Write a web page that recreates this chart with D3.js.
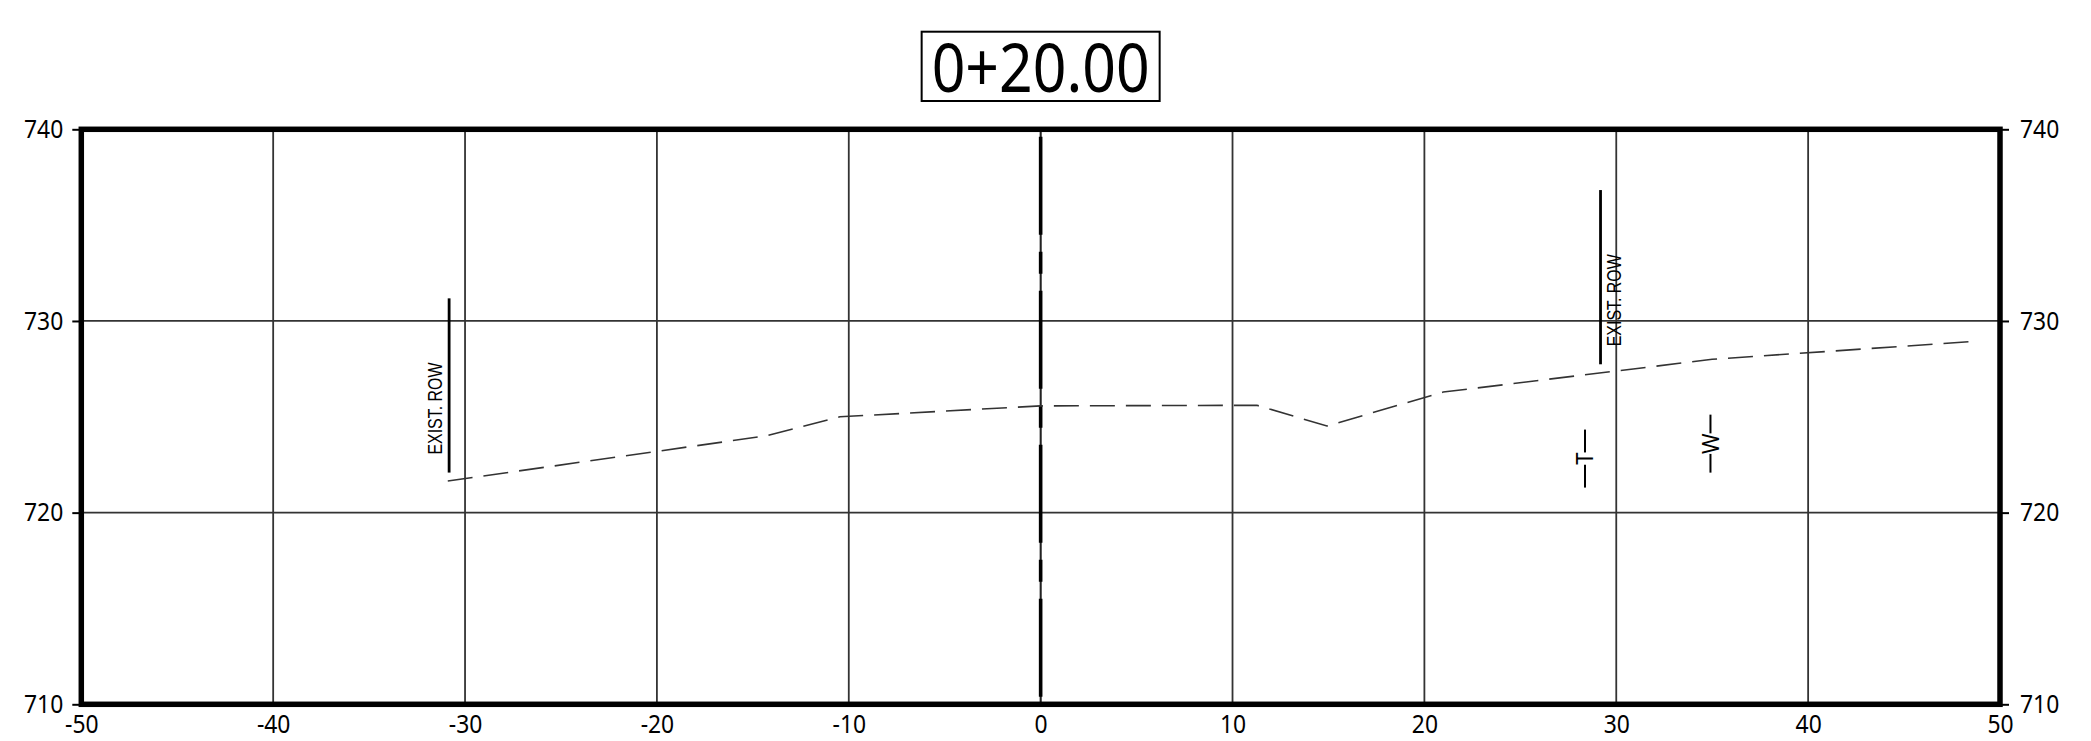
<!DOCTYPE html>
<html>
<head>
<meta charset="utf-8">
<script src="https://cdn.jsdelivr.net/npm/d3@7"></script>
<style>
body { margin: 0; background: white; }
.gridline { stroke: #333; stroke-width: 1.8; }
.axisLabels text { font-family: "Noto Sans", sans-serif; font-size: 26px; fill: black; }
.axisLabels line { stroke: black; stroke-width: 2; }
</style>
</head>
<body>
<div id="rysPrzekroj"></div>
<script>
// section data (offset in ft, elevation in ft)
var stationLabel = "0+20.00";
var offsetTicks = [-50, -40, -30, -20, -10, 0, 10, 20, 30, 40, 50];
var elevTicks = [710, 720, 730, 740];

var groundOffsets = [-30.9, -14.35, -10.46, 0, 11.27, 14.92, 20.98, 35.0, 48.45];
var groundElevs = [721.65, 724.0, 725.0, 725.57, 725.6, 724.52, 726.29, 728.0, 728.92];

var rowLabel = "EXIST. ROW";
var rowOffsets = [-30.83, 29.18];
var rowTops = [731.18, 736.83];
var rowBottoms = [722.09, 727.74];

var utilityCodes = ["T", "W"];
var utilityOffsets = [28.37, 34.91];
var utilityElevs = [722.82, 723.6];

var margin = { top: 129.3, right: 91, bottom: 36.7, left: 81.3 };
var width = 2091 - margin.left - margin.right;
var height = 741 - margin.top - margin.bottom;

var ground = groundOffsets.map(function (d, i) { return { off: d, elev: groundElevs[i] }; });
var rows = rowOffsets.map(function (d, i) { return { off: d, top: rowTops[i], bottom: rowBottoms[i] }; });
var utilities = utilityCodes.map(function (d, i) { return { code: d, off: utilityOffsets[i], elev: utilityElevs[i] }; });

var svgRoot = d3.select("#rysPrzekroj")
  .append("svg")
  .attr("width", 2091)
  .attr("height", 741)
  .style("display", "block")
  .style("background", "white");

var svg = svgRoot.append("g")
  .attr("transform", "translate(" + margin.left + "," + margin.top + ")");

var xscale = d3.scaleLinear()
  .domain([offsetTicks[0], offsetTicks[offsetTicks.length - 1]])
  .range([0, width]);

var yscale = d3.scaleLinear()
  .domain([elevTicks[0], elevTicks[elevTicks.length - 1]])
  .range([height, 0]);

// plain hyphen, like the CAD sheet
var plainNum = function (d) { return String(d); };

// grid
svg.append("g")
  .selectAll("line")
  .data(offsetTicks.slice(1, -1))
  .enter().append("line")
  .attr("class", "gridline")
  .attr("x1", d => xscale(d))
  .attr("x2", d => xscale(d))
  .attr("y1", 0)
  .attr("y2", height);

svg.append("g")
  .selectAll("line")
  .data(elevTicks.slice(1, -1))
  .enter().append("line")
  .attr("class", "gridline")
  .attr("x1", 0)
  .attr("x2", width)
  .attr("y1", d => yscale(d))
  .attr("y2", d => yscale(d));

// centerline: thin line with heavy dash-dot on top
svg.append("line")
  .attr("x1", xscale(0)).attr("x2", xscale(0))
  .attr("y1", 0).attr("y2", height)
  .attr("stroke", "#222")
  .attr("stroke-width", 1.6);

svg.append("line")
  .attr("x1", xscale(0)).attr("x2", xscale(0))
  .attr("y1", 0).attr("y2", height)
  .attr("stroke", "black")
  .attr("stroke-width", 3.6)
  .attr("stroke-dasharray", "98 17 22 17")
  .attr("stroke-dashoffset", 126 - height / 2);

// existing ground
svg.append("path")
  .datum(ground)
  .attr("fill", "none")
  .attr("stroke", "#333")
  .attr("stroke-width", 1.6)
  .attr("stroke-dasharray", "25 11")
  .attr("d", d3.line()
    .x(function (d) { return xscale(d.off); })
    .y(function (d) { return yscale(d.elev); })
  );

// right of way lines
svg.append("g")
  .selectAll("line")
  .data(rows)
  .enter().append("line")
  .attr("x1", d => xscale(d.off))
  .attr("x2", d => xscale(d.off))
  .attr("y1", d => yscale(d.top))
  .attr("y2", d => yscale(d.bottom))
  .attr("stroke", "black")
  .attr("stroke-width", 2.8);

svg.append("g")
  .selectAll("text")
  .data(rows)
  .enter().append("text")
  .attr("transform", function (d) {
    var tx = d.off < 0 ? xscale(d.off) - 7 : xscale(d.off) + 20;
    return "translate(" + tx + "," + (yscale(d.bottom) - 18) + ")rotate(-90)";
  })
  .attr("text-anchor", "start")
  .attr("textLength", 92)
  .attr("lengthAdjust", "spacingAndGlyphs")
  .style("font-family", "'Liberation Sans', Arial, sans-serif")
  .style("font-size", "19.5px")
  .text(rowLabel);

// utility markers  —T—  —W—
var symLen = 58;
var utilG = svg.append("g")
  .selectAll("g")
  .data(utilities)
  .enter().append("g");

utilG.append("text")
  .attr("transform", d => "translate(" + (xscale(d.off) + 8.5) + "," + yscale(d.elev) + ")rotate(-90)")
  .attr("text-anchor", "middle")
  .style("font-family", "'Noto Sans', sans-serif")
  .style("font-size", "24px")
  .text(d => d.code)
  .each(function (d) {
    var w = this.getComputedTextLength() * 0.92;
    d3.select(this).attr("textLength", w).attr("lengthAdjust", "spacingAndGlyphs");
    d.gap = w;
  });

utilG.append("line")
  .attr("x1", d => xscale(d.off)).attr("x2", d => xscale(d.off))
  .attr("y1", d => yscale(d.elev) - symLen / 2)
  .attr("y2", d => yscale(d.elev) - d.gap / 2)
  .attr("stroke", "black").attr("stroke-width", 2);

utilG.append("line")
  .attr("x1", d => xscale(d.off)).attr("x2", d => xscale(d.off))
  .attr("y1", d => yscale(d.elev) + d.gap / 2)
  .attr("y2", d => yscale(d.elev) + symLen / 2)
  .attr("stroke", "black").attr("stroke-width", 2);

// axes
function condense(sel) {
  sel.selectAll("text").each(function () {
    var w = this.getComputedTextLength();
    d3.select(this).attr("textLength", w * 0.88).attr("lengthAdjust", "spacingAndGlyphs");
  });
}

var yAxisL = svg.append("g")
  .attr("class", "axisLabels")
  .call(d3.axisLeft(yscale).tickValues(elevTicks).tickSize(9).tickPadding(9).tickFormat(plainNum));
yAxisL.select(".domain").remove();
condense(yAxisL);

var yAxisR = svg.append("g")
  .attr("class", "axisLabels")
  .attr("transform", "translate(" + width + ",0)")
  .call(d3.axisRight(yscale).tickValues(elevTicks).tickSize(9).tickPadding(11).tickFormat(plainNum));
yAxisR.select(".domain").remove();
condense(yAxisR);

var xAxis = svg.append("g")
  .attr("class", "axisLabels")
  .attr("transform", "translate(0," + height + ")")
  .call(d3.axisBottom(xscale).tickValues(offsetTicks).tickSize(0).tickPadding(10).tickFormat(plainNum));
xAxis.select(".domain").remove();
condense(xAxis);

// frame
svg.append("rect")
  .attr("x", 0)
  .attr("y", 0)
  .attr("width", width)
  .attr("height", height)
  .attr("fill", "none")
  .attr("stroke", "black")
  .attr("stroke-width", 5.5);

// station title
var cx = width / 2;
svg.append("rect")
  .attr("x", cx - 119)
  .attr("y", 31.7 - margin.top)
  .attr("width", 238)
  .attr("height", 69.3)
  .attr("fill", "white")
  .attr("stroke", "black")
  .attr("stroke-width", 2);

svg.append("text")
  .attr("x", cx)
  .attr("y", 91.7 - margin.top)
  .attr("text-anchor", "middle")
  .attr("textLength", 218)
  .attr("lengthAdjust", "spacingAndGlyphs")
  .style("font-family", "'Noto Sans', sans-serif")
  .style("font-size", "68px")
  .text(stationLabel);
</script>
</body>
</html>
